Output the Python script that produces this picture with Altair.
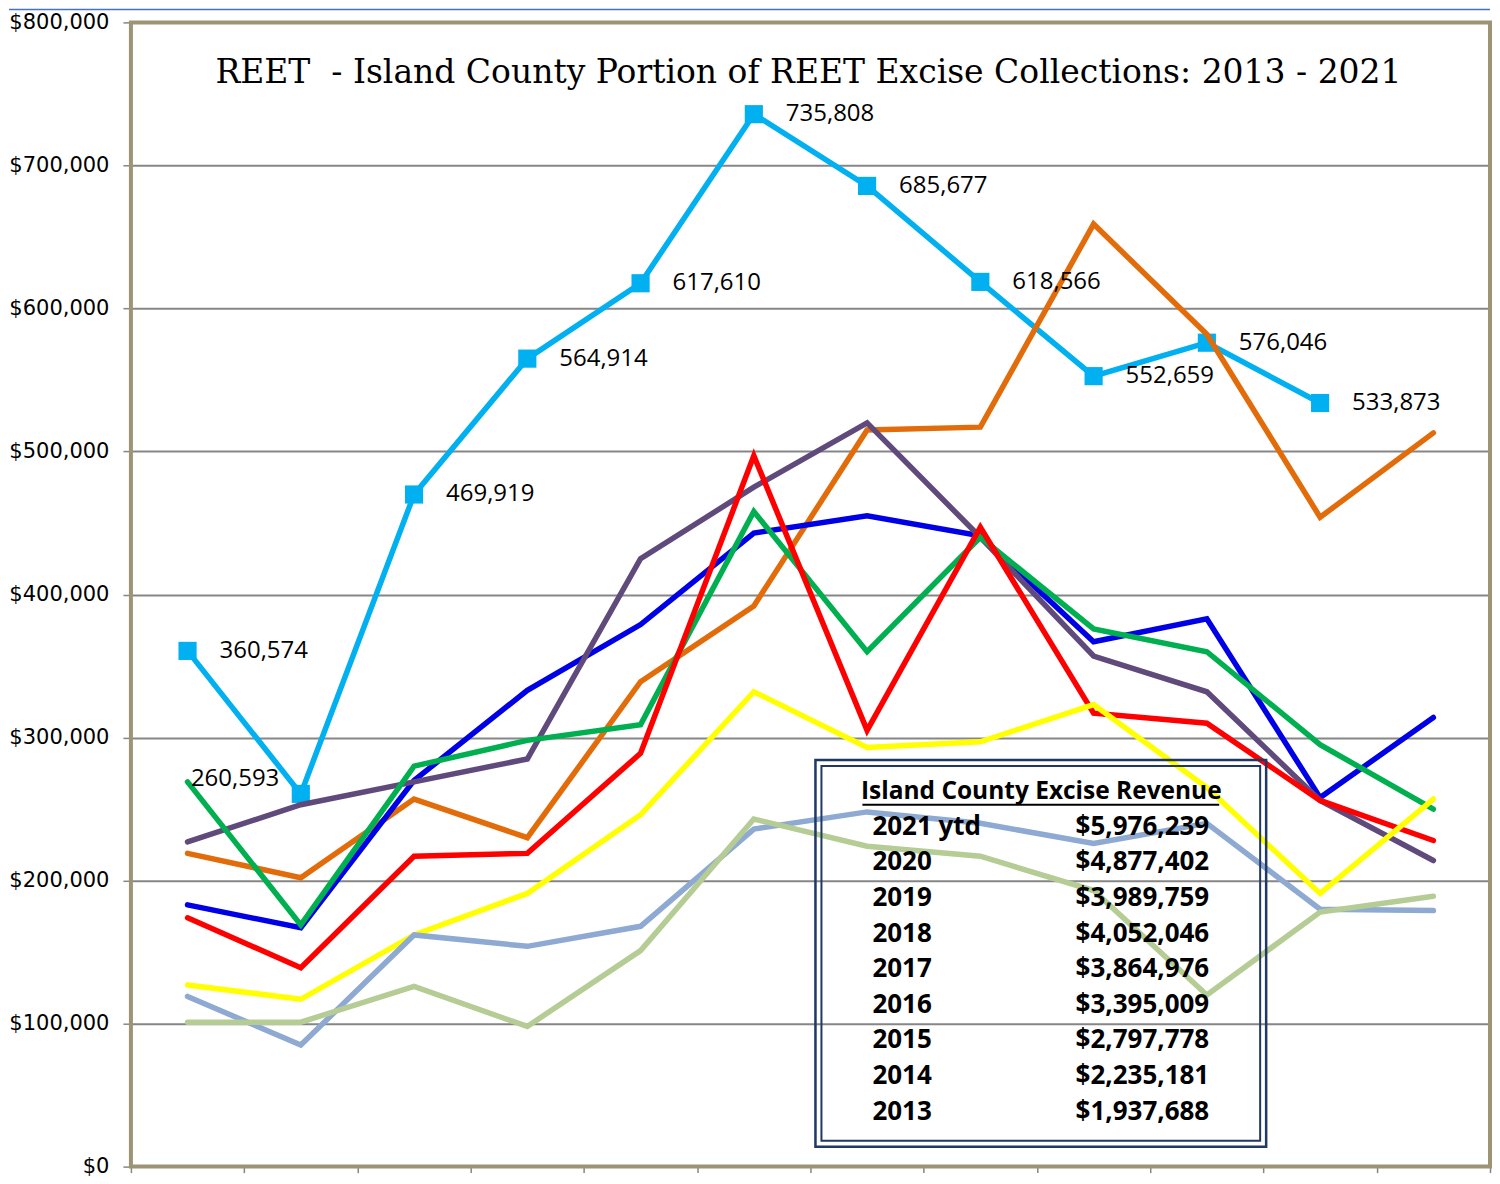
import altair as alt
import pandas as pd

months = list(range(1, 13))
years = ["2021", "2020", "2019", "2018", "2017", "2016", "2015", "2014", "2013"]

v2021 = [360574, 260593, 469919, 564914, 617610, 735808, 685677, 618566, 552659, 576046, 533873]
v2020 = [219000, 202000, 257000, 230000, 339000, 392000, 515000, 517000, 659000, 582000, 454000, 513000]
v2019 = [183000, 167000, 270000, 333000, 379000, 443000, 455000, 441000, 367000, 383000, 258000, 314000]
v2018 = [227000, 253000, 269000, 285000, 425000, 475000, 520000, 440000, 357000, 332000, 256000, 214000]
v2017 = [269000, 169000, 280000, 298000, 309000, 458000, 360000, 440000, 376000, 360000, 295000, 250000]
v2016 = [174000, 139000, 217000, 219000, 289000, 497000, 305000, 447000, 317000, 310000, 256000, 228000]
v2015 = [127000, 117000, 162000, 191000, 246000, 332000, 293000, 297000, 323000, 265000, 191000, 257000]
v2014 = [119000, 85000, 162000, 154000, 168000, 236000, 248000, 240000, 226000, 240000, 180000, 179000]
v2013 = [101000, 101000, 126000, 98000, 151000, 243000, 224000, 217000, 193000, 120000, 178000, 189000]

series = {"2021": v2021, "2020": v2020, "2019": v2019, "2018": v2018, "2017": v2017,
          "2016": v2016, "2015": v2015, "2014": v2014, "2013": v2013}
colors = {"2021": "#00B0F0", "2020": "#E36C0A", "2019": "#0000E6", "2018": "#604A7B",
          "2017": "#00B050", "2016": "#FF0000", "2015": "#FFFF00", "2014": "#8EA9D2",
          "2013": "#B5CC95"}

table_labels = ["2021 ytd", "2020", "2019", "2018", "2017", "2016", "2015", "2014", "2013"]
table_totals = [5976239, 4877402, 3989759, 4052046, 3864976, 3395009, 2797778, 2235181, 1937688]

title_text = "REET \u00a0- Island County Portion of REET Excise Collections: 2013 - 2021"
table_title = "Island County Excise Revenue"

rows = []
for yr in years:
    for m, v in zip(months, series[yr]):
        rows.append({"year": yr, "month": m, "value": v})
df = pd.DataFrame(rows)

tdf = pd.DataFrame({"row": list(range(len(table_labels))), "label": table_labels, "total": table_totals})

W, H = 1360, 1145
GRID = "#868686"

x_enc = alt.X("month:Q",
              scale=alt.Scale(domain=[0.5, 12.5], nice=False, zero=False),
              axis=alt.Axis(values=[0.5 + i for i in range(13)], labels=False, ticks=True,
                            tickSize=6, tickColor=GRID, tickWidth=1.5, grid=False,
                            domain=False, title=None))
y_enc = alt.Y("value:Q",
              scale=alt.Scale(domain=[0, 800000], nice=False),
              axis=alt.Axis(values=list(range(0, 800001, 100000)), format="$,.0f",
                            grid=True, gridColor=GRID, gridWidth=2,
                            tickColor=GRID, tickSize=8, tickWidth=1.5,
                            labelFont="DejaVu Sans", labelFontSize=21, labelColor="#000000",
                            labelPadding=14, domain=False, title=None))

anno = alt.Chart(pd.DataFrame({"a": [0]}))
border = anno.mark_rect(fill="transparent", stroke="#9C9474", strokeWidth=4).encode(
    x=alt.value(0), x2=alt.value(W), y=alt.value(0), y2=alt.value(H))

base = alt.Chart(df)
layers = [border]
for yr in years:
    layers.append(
        base.transform_filter(alt.datum.year == yr)
        .mark_line(color=colors[yr], strokeWidth=5.5, strokeCap="round", strokeJoin="miter")
        .encode(x=x_enc, y=y_enc)
    )
    if yr == "2021":
        layers.append(
            base.transform_filter(alt.datum.year == yr)
            .mark_point(shape="square", filled=True, size=330, color=colors[yr], opacity=1)
            .encode(x=x_enc, y=y_enc)
        )

lbl_base = base.transform_filter(alt.datum.year == "2021")
labels_main = lbl_base.transform_filter(alt.datum.month != 2).mark_text(
    align="left", baseline="middle", dx=32, font="Open Sans", fontSize=24, color="#000000"
).encode(x=x_enc, y=y_enc, text=alt.Text("value:Q", format=","))
labels_feb = lbl_base.transform_filter(alt.datum.month == 2).mark_text(
    align="left", baseline="middle", dx=-110, dy=-15, font="Open Sans", fontSize=24, color="#000000"
).encode(x=x_enc, y=y_enc, text=alt.Text("value:Q", format=","))

title = anno.mark_text(font="DejaVu Serif", fontSize=33, color="#000000", align="center",
                       baseline="middle").encode(
    x=alt.value(678), y=alt.value(51), text=alt.value(title_text))
top_line = anno.mark_rule(color="#4472C4", strokeWidth=1.5).encode(
    x=alt.value(-122), x2=alt.value(W), y=alt.value(-13))

box_outer = anno.mark_rect(fill="transparent", stroke="#1F3864", strokeWidth=2.5).encode(
    x=alt.value(685), x2=alt.value(1136), y=alt.value(738), y2=alt.value(1125))
box_inner = anno.mark_rect(fill="transparent", stroke="#1F3864", strokeWidth=2).encode(
    x=alt.value(691), x2=alt.value(1130), y=alt.value(744), y2=alt.value(1119))
head = anno.mark_text(font="Open Sans", fontSize=24.5, fontWeight="bold", color="#000000",
                      align="center", baseline="middle").encode(
    x=alt.value(911), y=alt.value(770), text=alt.value(table_title))
head_ul = anno.mark_rule(color="#000000", strokeWidth=2).encode(
    x=alt.value(732), x2=alt.value(1089), y=alt.value(783))

row_y = alt.Y("row:Q", scale=alt.Scale(domain=[0, 8], range=[805, 1090]), axis=None)
t_labels = alt.Chart(tdf).mark_text(font="Open Sans", fontSize=26, fontWeight="bold",
                                    color="#000000", align="left", baseline="middle").encode(
    x=alt.value(742), y=row_y, text="label:N")
t_totals = alt.Chart(tdf).mark_text(font="Open Sans", fontSize=26, fontWeight="bold",
                                    color="#000000", align="right", baseline="middle").encode(
    x=alt.value(1079), y=row_y, text=alt.Text("total:Q", format="$,.0f"))

main = alt.layer(*layers, labels_main, labels_feb, title, top_line, box_outer, box_inner,
                 head, head_ul)
table = alt.layer(t_labels, t_totals)

chart = alt.layer(main, table).resolve_scale(y="independent").properties(
    width=W, height=H, padding={"left": 0, "top": 0, "right": 0, "bottom": 0}
).configure_view(stroke=None).configure(background="#ffffff")

chart.save("out.html", embed_options={"renderer": "svg", "actions": False})
